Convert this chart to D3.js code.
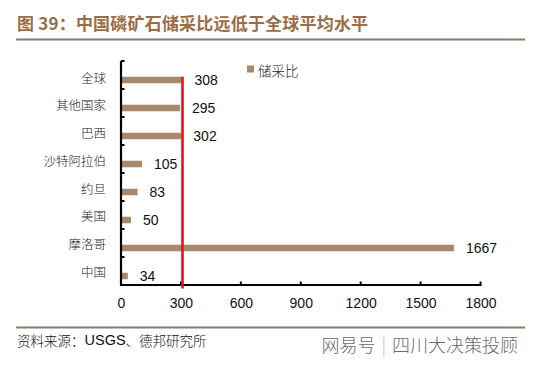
<!DOCTYPE html>
<html><head><meta charset="utf-8">
<script src="https://cdn.jsdelivr.net/npm/d3@7"></script>
<style>
html,body{margin:0;padding:0;background:#fff;}
svg{display:block;}
</style></head>
<body>
<script>
const categories = ["全球","其他国家","巴西","沙特阿拉伯","约旦","美国","摩洛哥","中国"];
const values = [308,295,302,105,83,50,1667,34];
const xTicks = [0,300,600,900,1200,1500,1800];
const refValue = 308;
const seriesName = "储采比";
const title = "图 39：中国磷矿石储采比远低于全球平均水平";
const source = "资料来源：USGS、德邦研究所";

const W = 538, H = 368;
const svg = d3.select("body").append("svg").attr("width", W).attr("height", H);
const cjk = "'Noto Sans CJK SC','Noto Sans',sans-serif";
const latin = "'Liberation Sans',Arial,sans-serif";

// title
svg.append("text").attr("x",17).attr("y",22).attr("dominant-baseline","central")
  .attr("font-family",cjk).attr("font-weight",700).attr("font-size",17).attr("letter-spacing",0.2)
  .attr("fill","#9b6d47").text(title);
svg.append("line").attr("x1",16).attr("x2",525).attr("y1",39.5).attr("y2",39.5)
  .attr("stroke","#8a7c6c").attr("stroke-width",2);

const x = d3.scaleLinear().domain([0,1800]).range([121,480.5]);
const y = d3.scaleBand().domain(categories).range([61,285]).padding(0);
const bw = y.bandwidth();
const barH = 6.5;

// bars
svg.append("g").selectAll("rect").data(values).join("rect")
  .attr("x", x(0))
  .attr("y", (d,i)=> y(categories[i]) + bw/2 + 5 - barH/2)
  .attr("width", d=> x(d)-x(0))
  .attr("height", barH)
  .attr("fill","#a5896a");

// value labels
svg.append("g").selectAll("text").data(values).join("text")
  .attr("x", d=> x(d)+12)
  .attr("y", (d,i)=> y(categories[i]) + bw/2 + 5)
  .attr("dominant-baseline","central")
  .attr("font-family",latin).attr("font-size",14).attr("fill","#111")
  .text(d=>d);

// category labels
svg.append("g").selectAll("text").data(categories).join("text")
  .attr("x",106)
  .attr("y",(d,i)=> y(d)+bw/2 + 2 - i*0.25)
  .attr("text-anchor","end").attr("dominant-baseline","central")
  .attr("font-family",cjk).attr("font-weight",300).attr("font-size",12.5).attr("fill","#222")
  .text(d=>d);

// y axis
svg.append("line").attr("x1",x(0)).attr("x2",x(0)).attr("y1",61).attr("y2",286)
  .attr("stroke","#000").attr("stroke-width",2.2);
const yb = categories.map(c=>y(c)).concat([285]);
svg.append("g").selectAll("line").data(yb).join("line")
  .attr("x1",x(0)).attr("x2",x(0)+3.5).attr("y1",d=>d).attr("y2",d=>d)
  .attr("stroke","#000").attr("stroke-width",2);

// x axis
const xAxis = d3.axisBottom(x).tickValues(xTicks).tickFormat(d3.format("d")).tickSize(0).tickPadding(13);
const gx = svg.append("g").attr("transform","translate(0,285)").call(xAxis);
gx.select(".domain").remove();
gx.selectAll("text").attr("font-family",latin).attr("font-size",14).attr("fill","#111");
svg.append("line").attr("x1",x(0)-1).attr("x2",x(1800)+1).attr("y1",285).attr("y2",285)
  .attr("stroke","#000").attr("stroke-width",2.2);
svg.append("g").selectAll("line").data(xTicks).join("line")
  .attr("x1",d=>x(d)).attr("x2",d=>x(d)).attr("y1",285).attr("y2",281.5)
  .attr("stroke","#000").attr("stroke-width",2);

// reference red line
svg.append("line").attr("x1",x(refValue)).attr("x2",x(refValue))
  .attr("y1",y(categories[0])+bw/2+5-barH/2).attr("y2",288.5)
  .attr("stroke","#e3141b").attr("stroke-width",2.6);

// legend
svg.append("rect").attr("x",247).attr("y",65.5).attr("width",7).attr("height",7).attr("fill","#a5896a");
svg.append("text").attr("x",258).attr("y",69.5).attr("dominant-baseline","central")
  .attr("font-family",cjk).attr("font-weight",300).attr("font-size",13.5).attr("fill","#222")
  .text(seriesName);

// bottom
svg.append("line").attr("x1",16).attr("x2",525).attr("y1",327.5).attr("y2",327.5)
  .attr("stroke","#8a7c6c").attr("stroke-width",2);
const src = svg.append("text").attr("x",17).attr("y",340).attr("dominant-baseline","central")
  .attr("font-size",13.5).attr("fill","#111");
src.append("tspan").attr("font-family",cjk).attr("font-weight",300).text("资料来源：");
src.append("tspan").attr("font-family",latin).attr("font-size",14.5).text("USGS");
src.append("tspan").attr("font-family",cjk).attr("font-weight",300).text("、德邦研究所");

const wm = svg.append("text").attr("x",518).attr("y",344).attr("text-anchor","end").attr("dominant-baseline","central")
  .attr("font-family",cjk).attr("font-weight",300).attr("font-size",18).attr("fill","#6a6a6a");
wm.append("tspan").text("网易号");
wm.append("tspan").attr("fill","#bbb").attr("dx",6).text("|");
wm.append("tspan").attr("dx",6).text("四川大决策投顾");
</script>
</body></html>
